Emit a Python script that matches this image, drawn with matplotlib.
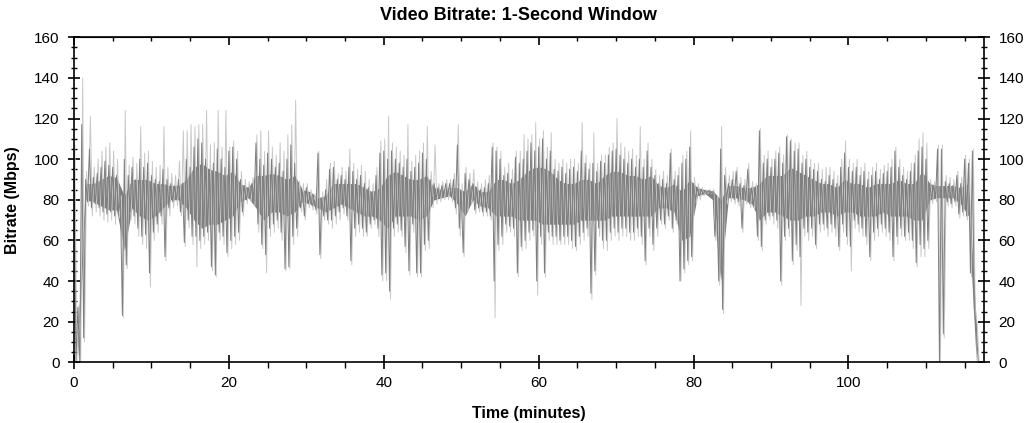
import numpy as np
import matplotlib
matplotlib.use('Agg')
import matplotlib.pyplot as plt
from matplotlib.ticker import MultipleLocator

plt.rcParams['font.family'] = ['Liberation Sans', 'DejaVu Sans']

# ---- data ----
BIN = 0.5   # minutes per spike bin
CBIN = 1.0  # minutes per core bin

# dense core of the dark trace, one value pair per minute
core_hi = [
    15, 88, 88, 90, 92, 91, 82, 90, 90, 90,
    88, 88, 87, 87, 90, 96, 98, 95, 94, 92,
    94, 88, 86, 92, 92, 93, 92, 90, 92, 85,
    84, 81, 82, 88, 88, 88, 88, 86, 84, 86,
    92, 94, 92, 90, 90, 92, 86, 85, 86, 86,
    84, 88, 84, 84, 90, 90, 88, 90, 94, 96,
    96, 94, 90, 88, 88, 90, 90, 88, 92, 94,
    94, 92, 92, 90, 92, 87, 86, 88, 84, 90,
    86, 85, 84.5, 80, 87, 87, 86, 86, 88, 92,
    92, 92, 96, 94, 92, 90, 88, 88, 86, 90,
    88, 88, 86, 88, 88, 88, 90, 88, 88, 94,
    88, 87, 87, 87, 86, 88, 20,
]
core_lo = [
    2, 80, 79, 77, 75, 75, 55, 76, 72, 70,
    72, 76, 80, 80, 76, 70, 66, 68, 68, 70,
    72, 79, 81, 76, 70, 74, 74, 72, 74, 79,
    78, 76, 74, 76, 78, 76, 74, 72, 72, 70,
    66, 72, 72, 72, 70, 72, 80, 81, 82, 78,
    72, 80, 77, 76, 72, 72, 72, 70, 70, 70,
    68, 68, 68, 68, 68, 70, 70, 70, 70, 72,
    72, 72, 72, 72, 72, 76, 76, 74, 60, 62,
    82, 83, 80, 40, 81, 81, 80, 78, 70, 74,
    74, 72, 70, 70, 72, 72, 74, 74, 72, 74,
    74, 72, 72, 72, 74, 72, 72, 72, 70, 70,
    80, 81, 81, 81, 78, 72, 0,
]

# dark trace (1-second window): upper / lower excursion per half minute
dark_hi = [
    105, 27, 117, 90, 105, 91, 93, 96, 99, 97, 96, 92, 80, 100, 92, 96, 90, 100, 96, 98,
    92, 90, 89, 95, 90, 88, 87, 90, 88, 100, 96, 106, 110, 108, 100, 95, 98, 105, 100, 96,
    104, 106, 100, 90, 87, 86, 88, 108, 100, 97, 103, 100, 96, 98, 94, 100, 107, 98, 86, 84,
    86, 82, 80, 103, 81, 85, 95, 96, 90, 92, 90, 96, 94, 90, 92, 88, 86, 84, 92, 103,
    104, 100, 104, 100, 98, 96, 100, 94, 96, 98, 103, 100, 90, 88, 86, 87, 88, 88, 90, 107,
    84, 93, 90, 88, 86, 85, 86, 88, 106, 104, 100, 92, 93, 90, 101, 98, 100, 104, 108, 104,
    106, 110, 100, 104, 95, 94, 96, 93, 95, 96, 94, 104, 98, 95, 98, 94, 99, 98, 102, 104,
    105, 102, 100, 98, 100, 96, 100, 96, 104, 96, 92, 88, 90, 88, 103, 90, 92, 98, 100, 106,
    88, 86, 85, 84.5, 84.5, 84, 80, 105, 92, 88, 90, 94, 88, 87, 95, 86, 86, 114, 98, 100,
    96, 100, 103, 98, 111, 109, 104, 105, 98, 100, 96, 95, 94, 90, 89, 92, 90, 88, 96, 103,
    96, 94, 96, 92, 94, 90, 92, 94, 90, 93, 94, 96, 104, 96, 92, 90, 94, 98, 104, 106,
    100, 88, 87, 105, 105, 89, 88, 87, 92, 88, 100, 98, 104, 18,
]
dark_lo = [
    0, 0, 12, 79, 76, 78, 76, 74, 73, 74, 72, 74, 23, 48, 74, 72, 66, 62, 63, 44,
    64, 68, 72, 52, 76, 79, 80, 74, 59, 70, 62, 62, 60, 62, 64, 47, 43, 64, 62, 54,
    60, 62, 64, 74, 80, 81, 79, 68, 58, 53, 66, 68, 70, 64, 46, 47, 62, 66, 76, 72,
    78, 77, 75, 53, 72, 70, 70, 72, 74, 76, 72, 50, 66, 68, 66, 64, 68, 70, 66, 43,
    44, 35, 66, 68, 65, 57, 45, 68, 44, 44, 58, 60, 78, 80, 81, 82, 82, 81, 76, 66,
    54, 76, 80, 75, 76, 74, 74, 72, 40, 58, 62, 68, 67, 66, 44, 57, 60, 64, 65, 40,
    62, 44, 64, 62, 62, 60, 62, 62, 60, 57, 62, 64, 66, 34, 45, 66, 60, 60, 64, 66,
    64, 66, 66, 64, 64, 66, 62, 50, 66, 58, 66, 70, 68, 72, 66, 70, 40, 46, 50, 52,
    80, 82, 83, 83.5, 83.5, 62, 40, 26, 80, 81, 80, 79, 66, 80, 78, 77, 62, 57, 70, 72,
    72, 70, 40, 62, 66, 50, 58, 52, 66, 64, 66, 58, 68, 68, 66, 68, 66, 57, 68, 62,
    57, 70, 68, 66, 62, 52, 64, 66, 68, 66, 64, 52, 62, 66, 62, 64, 60, 49, 58, 56,
    60, 80, 81, 0, 14, 79, 78, 79, 73, 74, 72, 44, 26, 0,
]

# light trace (peaks behind the dark trace), per half minute
light_hi = [
    107, 28, 140, 94, 121, 96, 100, 104, 106, 108, 104, 100, 82, 124, 97, 101, 98, 116, 103, 104,
    99, 96, 97, 116, 96, 93, 92, 99, 114, 114, 117, 116, 117, 117, 124, 107, 108, 124, 106, 124,
    106, 109, 104, 94, 90, 89, 91, 112, 114, 104, 114, 106, 102, 108, 104, 112, 117, 129, 89, 88,
    88, 85, 83, 104, 84, 90, 98, 99, 93, 96, 94, 105, 98, 95, 97, 94, 90, 88, 96, 109,
    110, 121, 108, 106, 104, 102, 117, 99, 102, 104, 108, 116, 94, 107, 88, 89, 90, 90, 93, 117,
    88, 96, 93, 95, 89, 88, 90, 92, 108, 106, 104, 96, 98, 95, 104, 104, 112, 110, 112, 118,
    110, 114, 106, 113, 100, 98, 100, 98, 100, 100, 98, 118, 102, 98, 113, 98, 102, 102, 106, 108,
    120, 108, 106, 104, 105, 102, 116, 100, 108, 100, 95, 92, 94, 92, 105, 94, 96, 102, 104, 114,
    91, 88, 86, 85, 85, 85, 82, 116, 96, 92, 94, 96, 91, 90, 98, 89, 88, 115, 102, 104,
    100, 104, 106, 102, 112, 110, 108, 108, 102, 104, 100, 98, 98, 95, 96, 96, 94, 92, 100, 109,
    100, 98, 100, 96, 98, 94, 96, 98, 95, 97, 98, 100, 106, 100, 96, 94, 98, 102, 110, 113,
    108, 90, 89, 107, 107, 92, 91, 90, 94, 91, 102, 100, 105, 19,
]
light_lo = [
    0, 0, 10, 77, 72, 74, 72, 70, 69, 70, 68, 71, 22, 46, 70, 68, 62, 58, 56, 37,
    60, 64, 68, 50, 72, 76, 77, 72, 57, 66, 58, 47, 56, 58, 60, 45, 42, 60, 58, 52,
    56, 58, 60, 72, 78, 79, 77, 64, 56, 44, 62, 64, 66, 60, 45, 46, 58, 62, 74, 70,
    76, 75, 73, 51, 70, 68, 66, 68, 70, 73, 70, 48, 62, 64, 62, 62, 66, 68, 62, 40,
    40, 31, 62, 64, 62, 54, 43, 64, 42, 42, 55, 56, 76, 78, 79, 80, 80, 79, 73, 62,
    52, 74, 78, 73, 74, 72, 72, 70, 22, 55, 58, 64, 64, 62, 42, 55, 56, 60, 62, 33,
    58, 42, 60, 58, 58, 58, 58, 58, 56, 55, 58, 60, 62, 31, 43, 62, 56, 55, 60, 62,
    60, 62, 62, 60, 60, 62, 58, 48, 62, 55, 62, 68, 66, 70, 64, 68, 40, 44, 48, 50,
    78, 80, 82, 83, 83, 60, 38, 24, 78, 79, 78, 77, 64, 78, 76, 75, 60, 55, 68, 70,
    68, 66, 38, 60, 62, 48, 55, 28, 62, 60, 62, 56, 64, 65, 62, 64, 62, 55, 64, 58,
    45, 66, 64, 62, 58, 50, 60, 62, 64, 62, 60, 50, 58, 62, 60, 60, 56, 47, 52, 52,
    56, 78, 79, 0, 12, 77, 76, 77, 71, 72, 70, 42, 24, 0,
]

DARK = '#7f7f7f'
LIGHT = '#c8c8c8'


def zigzag(hi, lo, offset):
    """Alternate the upper and lower excursion of each bin into one trace."""
    t0 = np.arange(len(hi)) * BIN + offset
    xs = np.column_stack([t0, t0 + BIN / 2]).ravel()
    ys = np.column_stack([hi, lo]).ravel()
    return xs, ys


fig = plt.figure(figsize=(10.36, 4.23), dpi=100)
ax = fig.add_axes([0.0714, 0.1435, 0.8784, 0.7683])

t_core = np.arange(len(core_hi)) * CBIN + CBIN / 2

# light peaks first, then the dark core and trace on top
lx, ly = zigzag(light_hi, light_lo, 0.12)
ax.plot(lx, ly, color=LIGHT, lw=0.7)
ax.fill_between(t_core, core_lo, core_hi, color=DARK, lw=0)
dx, dy = zigzag(dark_hi, dark_lo, 0.0)
ax.plot(dx, dy, color=DARK, lw=0.7)

ax.set_xlim(0, 117.5)
ax.set_ylim(0, 160)

ax.xaxis.set_major_locator(MultipleLocator(20))
ax.xaxis.set_minor_locator(MultipleLocator(5))
ax.yaxis.set_major_locator(MultipleLocator(20))
ax.yaxis.set_minor_locator(MultipleLocator(5))

ax.tick_params(axis='x', which='major', direction='inout', length=10, width=1.2,
               labelsize=11, pad=5)
ax.tick_params(axis='x', which='minor', direction='out', length=4, width=1)
ax.tick_params(axis='y', which='major', direction='inout', length=9, width=1.2,
               labelsize=11, left=True, right=True, labelleft=True, labelright=True, pad=6)
ax.tick_params(axis='y', which='minor', direction='inout', length=5, width=1,
               left=True, right=True)

top = ax.secondary_xaxis('top')
top.xaxis.set_major_locator(MultipleLocator(20))
top.xaxis.set_minor_locator(MultipleLocator(5))
top.tick_params(which='major', direction='in', length=6, width=1.2, labeltop=False)
top.tick_params(which='minor', direction='in', length=3, width=1)

for s in ax.spines.values():
    s.set_linewidth(1.2)

ax.set_xlabel('Time (minutes)', fontsize=11.5, fontweight='bold')
ax.set_ylabel('Bitrate (Mbps)', fontsize=11.5, fontweight='bold')
ax.xaxis.set_label_coords(0.5, -0.135)
ax.yaxis.set_label_coords(-0.059, 0.5)
fig.suptitle('Video Bitrate: 1-Second Window', x=0.5, y=0.983, fontsize=13,
             fontweight='bold')

fig.savefig('out.png', dpi=100)
